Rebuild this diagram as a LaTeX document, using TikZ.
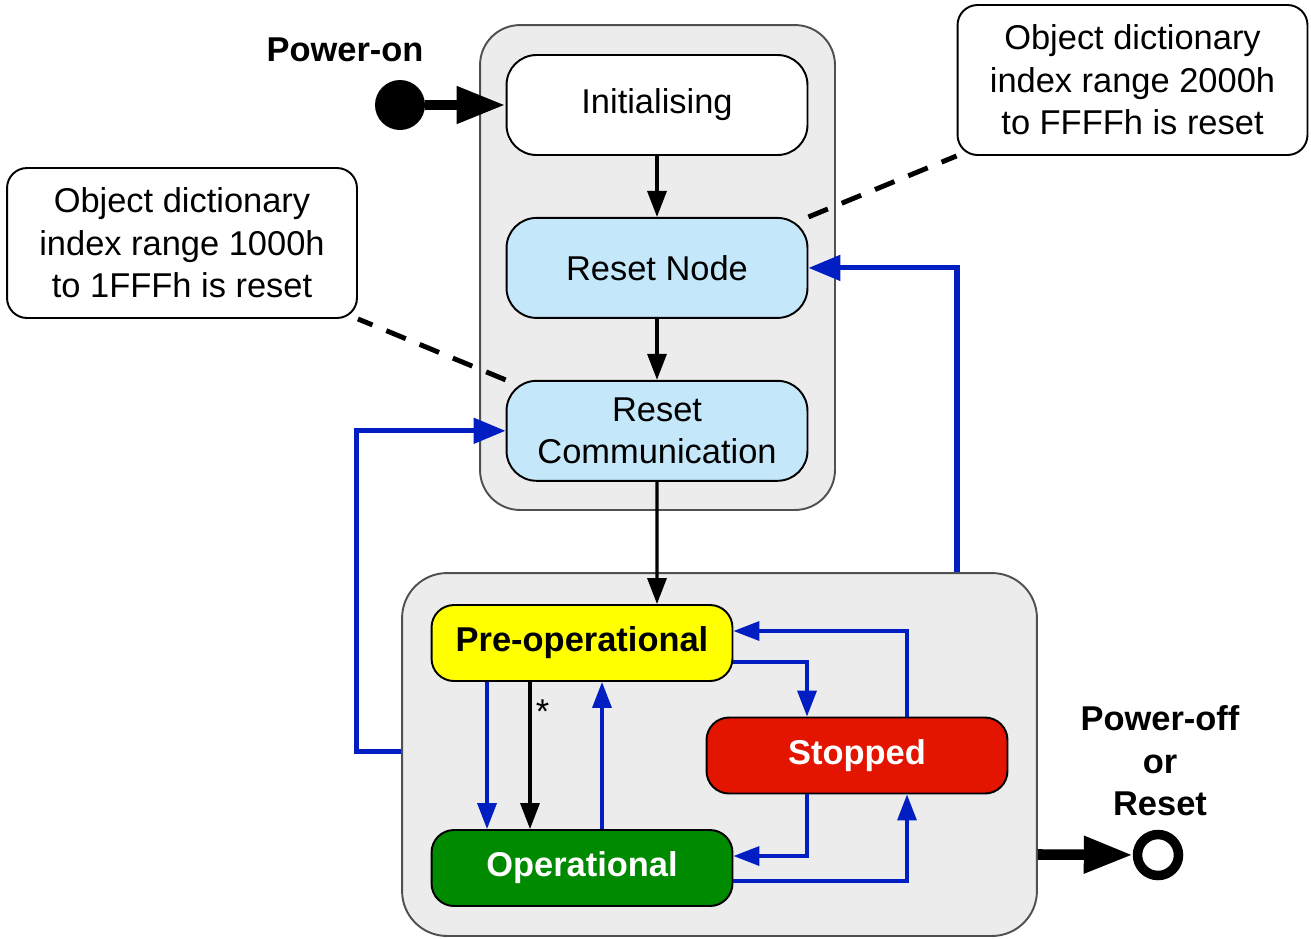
\documentclass[tikz,border=0pt]{standalone}
\usepackage{fontspec}
\setmainfont{Liberation Sans}
\usepackage{xcolor}
\usepackage{tikz}
\usetikzlibrary{arrows.meta,positioning}
\definecolor{groupfill}{HTML}{ECECEC}
\definecolor{groupdraw}{HTML}{505050}
\definecolor{resetblue}{HTML}{C4E7F9}
\definecolor{preyellow}{HTML}{FFFF00}
\definecolor{opgreen}{HTML}{008A00}
\definecolor{stopred}{HTML}{E31500}
\definecolor{nmtblue}{HTML}{001EC2}
\newcommand{\labelfont}{\fontsize{19.6pt}{24.2pt}\selectfont}
\tikzset{
  group/.style={rectangle, draw=groupdraw, fill=groupfill, line width=1.1pt},
  state/.style={rectangle, draw, rounded corners=0.6cm, align=center, minimum width=6.02cm, minimum height=2cm, line width=1.1pt, font=\labelfont},
  nmtstate/.style={rectangle, draw, rounded corners=0.45cm, align=center, minimum width=6.02cm, minimum height=1.52cm, line width=1.1pt, font=\labelfont\bfseries},
  note/.style={rectangle, draw, fill=white, rounded corners=0.4cm, align=center, minimum width=7cm, minimum height=3cm, line width=1.1pt, font=\labelfont},
  line/.style={-{Triangle[length=0.52cm, width=0.38cm]}, line width=1.9pt},
  bline/.style={-{Triangle[length=0.52cm, width=0.38cm]}, line width=2pt, draw=nmtblue},
  bigbline/.style={-{Triangle[length=0.64cm, width=0.5cm]}, line width=2.9pt, draw=nmtblue},
  powerline/.style={-{Triangle[length=0.98cm, width=0.7cm]}, line width=6pt},
  noteline/.style={line width=2.8pt, dash pattern=on 0.42cm off 0.3cm}
}
\begin{document}
\begin{tikzpicture}[x=0.02cm, y=-0.02cm]
  \useasboundingbox (0,0) rectangle (1311,938);
  % groups
  \node[group, rounded corners=0.8cm, minimum width=7.1cm, minimum height=9.7cm] (upper) at (657.5,267.5) {};
  \node[group, rounded corners=0.9cm, minimum width=12.7cm, minimum height=7.26cm] (lower) at (719.5,754.5) {};
  % initialisation states
  \node[state, fill=white] (init) at (657,105) {Initialising};
  \node[state, fill=resetblue, below=1.22cm of init] (rnode) {Reset Node};
  \node[state, fill=resetblue, below=1.22cm of rnode] (rcomm) {Reset\\Communication};
  % NMT states
  \node[nmtstate, fill=preyellow] (pre) at (582,643) {Pre-operational};
  \node[nmtstate, fill=opgreen, text=white] (op) at (582,868) {Operational};
  \node[nmtstate, fill=stopred, text=white] (stop) at (857,755.5) {Stopped};
  % notes
  \node[note] (noteR) at (1132.5,80) {Object dictionary\\index range 2000h\\to FFFFh is reset};
  \node[note] (noteL) at (182,243) {Object dictionary\\index range 1000h\\to 1FFFh is reset};
  % power on / off
  \node[circle, fill, minimum size=1cm, inner sep=0pt] (on) at (400,105) {};
  \node[font=\labelfont\bfseries] (onlabel) at (345,50) {Power-on};
  \node[circle, draw, line width=5.4pt, minimum size=0.82cm, inner sep=0pt] (off) at (1158,855) {};
  \node[font=\labelfont\bfseries, align=center] (offlabel) at (1160,761) {Power-off\\or\\Reset};
  % connectors
  \draw[powerline] (on) -- (init.west);
  \draw[line] (init) -- (rnode);
  \draw[line] (rnode) -- (rcomm);
  \draw[line] (rcomm.south) -- ([xshift=1.5cm]pre.north);
  \draw[bigbline] ([xshift=4.75cm]lower.north) |- (rnode.east);
  \draw[bigbline] ([yshift=0.06cm]lower.west) -- ++(-45,0) |- (rcomm.west);
  \draw[bline] ([xshift=-1.9cm]pre.south) -- ([xshift=-1.9cm]op.north);
  \draw[line] ([xshift=-1.04cm]pre.south) -- node[pos=0.2, right=-1pt, font=\labelfont] (star) {*} ([xshift=-1.04cm]op.north);
  \draw[bline] ([xshift=0.4cm]op.north) -- ([xshift=0.4cm]pre.south);
  \draw[bline] ([yshift=-0.38cm]pre.east) -| ([xshift=-1cm]stop.north);
  \draw[bline] ([xshift=1cm]stop.north) |- ([yshift=0.24cm]pre.east);
  \draw[bline] ([xshift=-1cm]stop.south) |- ([yshift=0.24cm]op.east);
  \draw[bline] ([yshift=-0.26cm]op.east) -| ([xshift=1cm]stop.south);
  \draw[powerline] ([yshift=-2cm]lower.east) -- (off);
  \draw[noteline] (rnode.north east) -- (noteR.south west);
  \draw[noteline] (rcomm.north west) -- (noteL.south east);
\end{tikzpicture}
\end{document}
